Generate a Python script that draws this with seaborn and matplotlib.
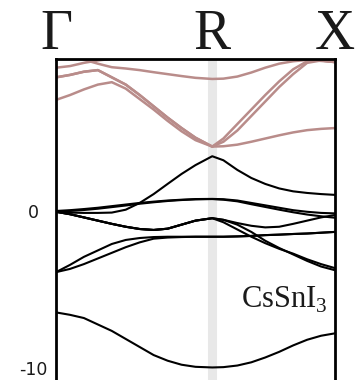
import matplotlib
matplotlib.use("Agg")
import matplotlib.pyplot as plt
from matplotlib.transforms import ScaledTranslation
import pandas as pd
import seaborn as sns

# k-path coordinate (Γ = 0, R = 0.56, X = 1)
k = [0.0, 0.05, 0.1, 0.15, 0.2, 0.25, 0.3, 0.35, 0.4, 0.45, 0.5, 0.56,
     0.6, 0.65, 0.7, 0.75, 0.8, 0.85, 0.9, 0.95, 1.0]
kpoint_pos = [0.0, 0.56, 1.0]
kpoint_labels = ["Γ", "R", "X"]
ytick_vals = [0, -10]
ytick_labels = ["0", "-10"]
compound = "CsSnI"

# valence bands (eV)
v1 = [-0.05, -0.1, -0.12, -0.12, -0.1, 0.08, 0.5, 1.05, 1.68, 2.3, 2.85, 3.4,
      3.15, 2.55, 2.05, 1.68, 1.4, 1.22, 1.12, 1.05, 1.0]
v2a = [0.0, 0.05, 0.12, 0.2, 0.3, 0.4, 0.5, 0.58, 0.65, 0.7, 0.74, 0.75,
       0.73, 0.65, 0.5, 0.35, 0.2, 0.05, -0.05, -0.12, -0.15]
v2b = [-0.02, 0.0, 0.06, 0.14, 0.24, 0.34, 0.45, 0.54, 0.62, 0.68, 0.72, 0.74,
       0.7, 0.6, 0.42, 0.25, 0.08, -0.08, -0.22, -0.33, -0.42]
v3a = [-0.05, -0.2, -0.4, -0.6, -0.8, -0.98, -1.12, -1.18, -1.1, -0.85, -0.6, -0.45,
       -0.55, -0.75, -0.92, -1.02, -0.98, -0.8, -0.6, -0.4, -0.25]
v3b = [-0.05, -0.2, -0.4, -0.6, -0.8, -0.98, -1.12, -1.18, -1.1, -0.85, -0.6, -0.45,
       -0.7, -1.15, -1.6, -2.0, -2.35, -2.65, -3.0, -3.3, -3.55]
v3c = [-0.05, -0.2, -0.4, -0.6, -0.8, -0.98, -1.12, -1.18, -1.1, -0.85, -0.6, -0.45,
       -0.55, -0.85, -1.3, -1.85, -2.3, -2.7, -3.1, -3.45, -3.68]
v4a = [-3.8, -3.35, -2.85, -2.45, -2.05, -1.8, -1.68, -1.62, -1.6, -1.6, -1.6, -1.6,
       -1.6, -1.58, -1.55, -1.5, -1.47, -1.43, -1.4, -1.35, -1.3]
v4b = [-3.8, -3.6, -3.3, -2.95, -2.6, -2.25, -1.95, -1.72, -1.65, -1.62, -1.6, -1.6,
       -1.6, -1.58, -1.55, -1.5, -1.47, -1.43, -1.4, -1.35, -1.3]
v5 = [-6.3, -6.45, -6.65, -7.05, -7.45, -7.95, -8.45, -8.95, -9.3, -9.55, -9.68, -9.72,
      -9.7, -9.6, -9.4, -9.1, -8.75, -8.35, -8.0, -7.75, -7.6]

# conduction bands (eV)
c1 = [6.9, 7.2, 7.55, 7.85, 8.0, 7.6, 6.95, 6.3, 5.6, 4.95, 4.4, 4.0,
      4.02, 4.12, 4.3, 4.5, 4.7, 4.88, 5.02, 5.1, 5.15]
c2 = [8.3, 8.45, 8.65, 8.75, 8.3, 7.85, 7.2, 6.5, 5.8, 5.15, 4.55, 4.0,
      4.5, 5.4, 6.3, 7.2, 8.05, 8.8, 9.3, 9.35, 9.25]
c3 = [8.3, 8.45, 8.65, 8.75, 8.3, 7.85, 7.2, 6.5, 5.8, 5.15, 4.55, 4.0,
      4.3, 5.0, 5.9, 6.8, 7.7, 8.5, 9.2, 9.35, 9.25]
c4 = [9.7, 9.55, 9.4, 9.15, 8.93, 8.85, 8.75, 8.62, 8.5, 8.38, 8.27, 8.2,
      8.22, 8.35, 8.6, 8.9, 9.15, 9.3, 9.38, 9.32, 9.25]
c5 = [8.9, 9.0, 9.2, 9.35, 9.45, 9.6, 9.75, 9.9, 10.0, 10.1, 10.2, 10.25,
      10.3, 10.4, 10.5, 10.6, 10.6, 10.6, 10.6, 10.6, 10.6]

valence = {"v1": v1, "v2a": v2a, "v2b": v2b, "v3a": v3a, "v3b": v3b,
           "v3c": v3c, "v4a": v4a, "v4b": v4b, "v5": v5}
conduction = {"c1": c1, "c2": c2, "c3": c3, "c4": c4, "c5": c5}

rows = []
for name, vals in {**valence, **conduction}.items():
    kind = "valence" if name in valence else "conduction"
    for kk, e in zip(k, vals):
        rows.append({"k": kk, "E": e, "band": name, "kind": kind})
df = pd.DataFrame(rows)

sns.set_style("white")
plt.rcParams["mathtext.fontset"] = "custom"
plt.rcParams["mathtext.rm"] = "Liberation Serif"

fig = plt.figure(figsize=(3.59, 3.80), dpi=100)
ax = fig.add_axes([56 / 359, -10 / 380, 279 / 359, 331 / 380])

ax.axvline(kpoint_pos[1], color="#e8e8e8", lw=6.5, zorder=0)

palette_v = {n: "black" for n in valence}
palette_c = {n: "#b98c8a" for n in conduction}
sns.lineplot(data=df[df.kind == "valence"], x="k", y="E", hue="band",
             palette=palette_v, sort=False, estimator=None, legend=False,
             lw=1.5, ax=ax, zorder=3)
sns.lineplot(data=df[df.kind == "conduction"], x="k", y="E", hue="band",
             palette=palette_c, sort=False, estimator=None, legend=False,
             lw=1.8, ax=ax, zorder=2)

ax.set_xlim(0, 1)
ax.set_ylim(-11.12, 9.44)
ax.set_xlabel("")
ax.set_ylabel("")

ax.xaxis.tick_top()
ax.set_xticks(kpoint_pos)
ax.set_xticklabels(kpoint_labels, fontfamily="Liberation Serif", fontsize=40,
                   color="#1a1a1a")
ax.tick_params(axis="x", length=0, pad=-1.5)
ax.set_yticks(ytick_vals)
ax.set_yticklabels(ytick_labels, fontsize=12.5, color="#1a1a1a", ha="center")
ax.tick_params(axis="y", length=0, pad=16)
for lbl in ax.get_yticklabels():
    if lbl.get_text() == "-10":
        lbl.set_transform(lbl.get_transform()
                          + ScaledTranslation(0, 3.5 / 100, fig.dpi_scale_trans))

for side in ["left", "right", "top"]:
    ax.spines[side].set_color("black")
    ax.spines[side].set_linewidth(2.0)
ax.spines["bottom"].set_visible(False)

ax.text(0.975, -6.0, compound + r"$_\mathrm{3}$", fontfamily="Liberation Serif",
        fontsize=22, ha="right", va="baseline", color="#1a1a1a", zorder=5)

fig.savefig("out.png", dpi=100)
